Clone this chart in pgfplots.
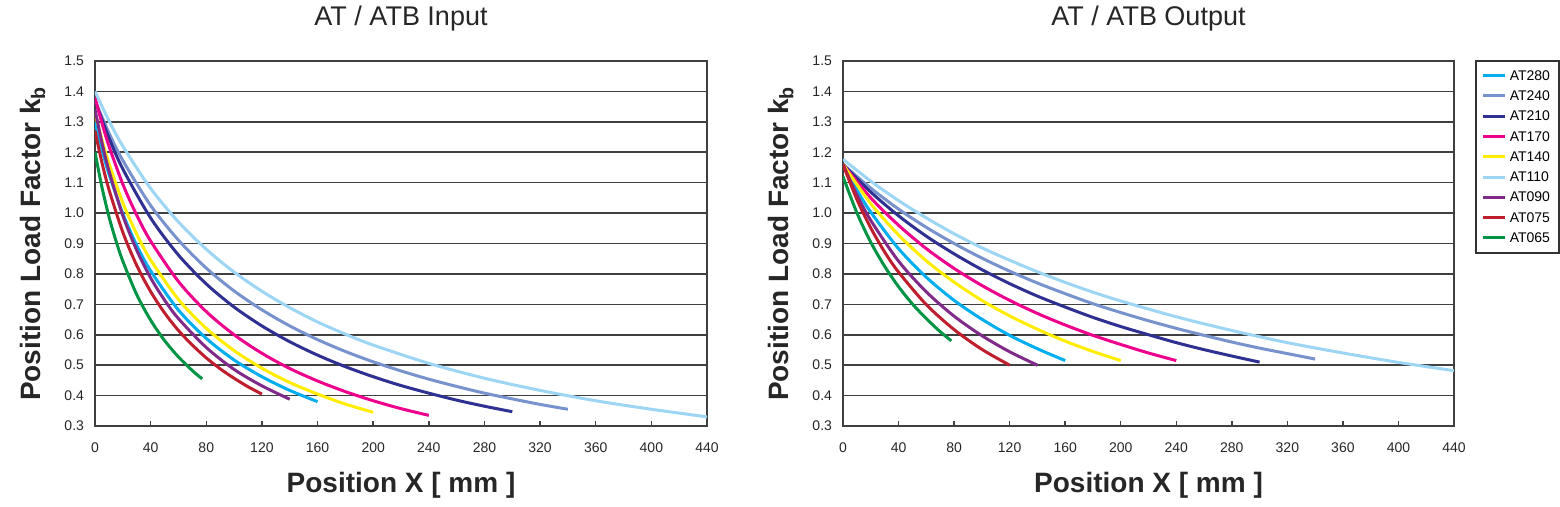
\documentclass[border=0pt]{standalone}
\usepackage{fontspec}
\setmainfont{Liberation Sans}
\usepackage{pgfplots}
\pgfplotsset{compat=1.18}

\definecolor{c280}{RGB}{0,174,239}
\definecolor{c240}{RGB}{120,146,206}
\definecolor{c210}{RGB}{46,49,146}
\definecolor{c170}{RGB}{236,0,140}
\definecolor{c140}{RGB}{255,237,0}
\definecolor{c110}{RGB}{157,213,244}
\definecolor{c090}{RGB}{128,43,138}
\definecolor{c075}{RGB}{190,30,45}
\definecolor{c065}{RGB}{0,148,68}

\pgfplotsset{
  kb/.style={
    scale only axis, width=306pt, height=182.5pt,
    xmin=0, xmax=440, ymin=0.3, ymax=1.5,
    xtick={0,40,...,440},
    ytick={0.3,0.4,0.5,0.6,0.7,0.8,0.9,1.0,1.1,1.2,1.3,1.4,1.5},
    yticklabel style={/pgf/number format/fixed, /pgf/number format/fixed zerofill,
      /pgf/number format/precision=1, xshift=-2pt},
    /pgf/number format/assume math mode=true,
    tick label style={font=\fontsize{7}{8}\selectfont, text=black!85},
    xticklabel style={yshift=-5pt},
    ymajorgrids, major grid style={black!75, line width=0.8pt},
    axis line style={black!75, line width=0.9pt},
    tick align=inside, xtick pos=left, major tick length=2.5pt,
    xtick style={black!75, line width=0.7pt},
    ytick style={draw=none},
    xlabel={Position X [ mm ]},
    ylabel={Position Load Factor k\textsubscript{b}},
    label style={font=\fontsize{14}{16}\selectfont\bfseries, text=black!85},
    xlabel style={at={(axis description cs:0.5,-0.1616)}, anchor=center},
    ylabel style={at={(axis description cs:-0.1013,0.5)}, anchor=center},
    title style={at={(axis description cs:0.5,1.0656)}, anchor=base, yshift=0pt,
      font=\fontsize{13.5}{15}\selectfont, text=black!85},
    every axis plot/.append style={line width=1.5pt, smooth, no marks},
  }
}

\begin{document}
\begin{tikzpicture}
\useasboundingbox (0,0) rectangle (780pt,253.5pt);

\begin{axis}[kb, at={(47.5pt,40.5pt)}, title={AT / ATB Input}]
\addplot[c280] coordinates {(0,1.30)(5,1.209)(10,1.129)(20,0.998)(30,0.894)(40,0.810)(60,0.681)(80,0.588)(100,0.517)(120,0.462)(140,0.417)(160,0.380)};
\addplot[c240] coordinates {(0,1.37)(10,1.264)(20,1.173)(40,1.025)(60,0.911)(80,0.819)(100,0.744)(120,0.682)(140,0.629)(160,0.584)(180,0.545)(200,0.511)(220,0.481)(240,0.454)(260,0.430)(280,0.408)(300,0.389)(320,0.371)(340,0.355)};
\addplot[c210] coordinates {(0,1.37)(10,1.248)(20,1.145)(40,0.984)(60,0.862)(80,0.767)(100,0.691)(120,0.629)(140,0.577)(160,0.533)(180,0.495)(200,0.462)(220,0.433)(240,0.408)(260,0.385)(280,0.365)(300,0.347)};
\addplot[c170] coordinates {(0,1.38)(5,1.296)(10,1.221)(20,1.095)(30,0.993)(40,0.908)(60,0.775)(80,0.676)(100,0.600)(120,0.539)(140,0.489)(160,0.448)(180,0.413)(200,0.383)(220,0.357)(240,0.335)};
\addplot[c140] coordinates {(0,1.33)(5,1.241)(10,1.164)(20,1.034)(30,0.931)(40,0.846)(60,0.716)(80,0.621)(100,0.548)(120,0.490)(140,0.443)(160,0.405)(180,0.372)(200,0.345)};
\addplot[c110] coordinates {(0,1.40)(10,1.304)(20,1.220)(40,1.081)(60,0.971)(80,0.881)(100,0.806)(120,0.743)(140,0.689)(160,0.642)(180,0.602)(200,0.566)(240,0.506)(280,0.457)(320,0.417)(360,0.383)(400,0.355)(440,0.330)};
\addplot[c090] coordinates {(0,1.34)(5,1.232)(10,1.140)(20,0.992)(30,0.878)(40,0.787)(50,0.714)(60,0.653)(80,0.558)(100,0.486)(120,0.432)(140,0.388)};
\addplot[c075] coordinates {(0,1.27)(5,1.166)(10,1.078)(20,0.937)(30,0.828)(40,0.742)(50,0.672)(60,0.614)(70,0.566)(80,0.524)(90,0.488)(100,0.457)(110,0.429)(120,0.405)};
\addplot[c065] coordinates {(0,1.20)(5,1.085)(10,0.989)(15,0.910)(20,0.842)(30,0.732)(40,0.648)(50,0.581)(60,0.527)(70,0.482)(77,0.455)};
\end{axis}

\begin{axis}[kb, at={(421.5pt,40.5pt)}, width=305.5pt, title={AT / ATB Output},
  legend style={at={(axis description cs:1,1)}, anchor=north west,
    xshift=10.5pt, yshift=0.5pt, draw=black!80, line width=0.8pt,
    font=\fontsize{7}{8}\selectfont, cells={anchor=west},
    nodes={inner sep=1.5pt, text height=5.2pt, text depth=0.6pt},
    inner sep=3pt, row sep=1.35pt},
  legend image code/.code={\draw[#1, line width=1.5pt, sharp plot] (0pt,0pt) -- (11pt,0pt);}]
\addplot[c280] coordinates {(0,1.16)(10,1.076)(20,1.003)(40,0.883)(60,0.789)(80,0.713)(100,0.651)(120,0.598)(140,0.554)(160,0.515)};
\addlegendentry{AT280}
\addplot[c240] coordinates {(0,1.16)(20,1.082)(40,1.013)(60,0.953)(80,0.900)(100,0.852)(120,0.809)(140,0.770)(160,0.735)(180,0.702)(200,0.673)(220,0.646)(240,0.621)(260,0.598)(280,0.576)(300,0.556)(320,0.538)(340,0.520)};
\addlegendentry{AT240}
\addplot[c210] coordinates {(0,1.16)(20,1.069)(40,0.991)(60,0.924)(80,0.866)(100,0.814)(120,0.768)(140,0.727)(160,0.691)(180,0.657)(200,0.627)(220,0.600)(240,0.574)(260,0.551)(280,0.530)(300,0.510)};
\addlegendentry{AT210}
\addplot[c170] coordinates {(0,1.16)(20,1.050)(40,0.960)(60,0.883)(80,0.818)(100,0.762)(120,0.713)(140,0.670)(160,0.632)(180,0.598)(200,0.568)(220,0.540)(240,0.515)};
\addlegendentry{AT170}
\addplot[c140] coordinates {(0,1.16)(20,1.031)(40,0.928)(60,0.843)(80,0.773)(100,0.713)(120,0.662)(140,0.618)(160,0.579)(180,0.545)(200,0.515)};
\addlegendentry{AT140}
\addplot[c110] coordinates {(0,1.177)(20,1.105)(40,1.041)(60,0.984)(80,0.932)(100,0.886)(120,0.845)(140,0.807)(160,0.772)(180,0.740)(200,0.711)(240,0.659)(280,0.614)(320,0.574)(360,0.540)(400,0.509)(440,0.482)};
\addlegendentry{AT110}
\addplot[c090] coordinates {(0,1.16)(10,1.060)(20,0.976)(40,0.842)(60,0.741)(80,0.661)(100,0.597)(120,0.544)(140,0.500)};
\addlegendentry{AT090}
\addplot[c075] coordinates {(0,1.16)(10,1.045)(20,0.951)(30,0.872)(40,0.806)(60,0.699)(80,0.617)(100,0.552)(120,0.500)};
\addlegendentry{AT075}
\addplot[c065] coordinates {(0,1.12)(10,1.001)(20,0.904)(30,0.825)(40,0.758)(50,0.701)(60,0.653)(70,0.610)(78,0.580)};
\addlegendentry{AT065}
\end{axis}
\end{tikzpicture}
\end{document}
